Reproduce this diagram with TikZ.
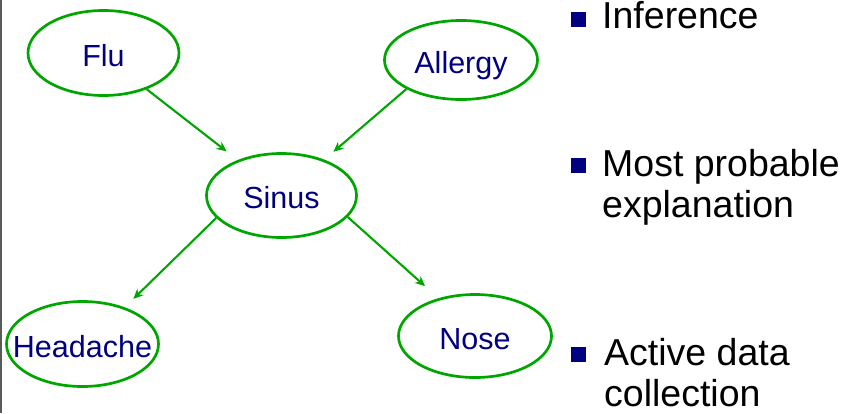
\documentclass[tikz,border=0pt]{standalone}
\usepackage{fontspec}
\setmainfont{Liberation Sans}
\usetikzlibrary{shapes.geometric,arrows.meta}
\definecolor{edgegreen}{RGB}{0,166,0}
\definecolor{navytext}{RGB}{0,0,128}
\definecolor{framegray}{RGB}{90,90,90}
\begin{document}
\begin{tikzpicture}[x=1pt,y=-1pt,
  var/.style={ellipse, draw=edgegreen, line width=2.7pt, inner sep=0pt},
  vlabel/.style={text=navytext, font=\fontsize{30.5}{30.5}\selectfont, text height=22pt, text depth=0pt, inner sep=0pt, yshift=-2pt},
  edge/.style={draw=edgegreen, line width=2.1pt, -{Stealth[length=10pt,width=9pt]}},
  bullet/.style={fill=navytext, minimum size=15pt, inner sep=0pt},
  btext/.style={font=\fontsize{37.5}{40.5}\selectfont, align=left, anchor=base west, inner sep=0pt}]
\useasboundingbox (0,0) rectangle (846,413);
\draw[framegray, line width=1.5pt] (0.75,0) -- (0.75,413);

\node[var, minimum width=151pt, minimum height=85pt, label={[vlabel]center:Flu}] (flu) at (103.5,53) {};
\node[var, minimum width=153pt, minimum height=79pt, label={[vlabel]center:Allergy}] (allergy) at (461,60) {};
\node[var, minimum width=150pt, minimum height=84pt, label={[vlabel]center:Sinus}] (sinus) at (281.5,195.5) {};
\node[var, minimum width=152pt, minimum height=85pt, label={[vlabel]center:Headache}] (headache) at (82.5,344) {};
\node[var, minimum width=153pt, minimum height=83pt, label={[vlabel]center:Nose}] (nose) at (475,336) {};

\draw[edge, shorten >=14pt] (flu.-40) -- (sinus.141.4);
\draw[edge, shorten >=12pt] (allergy.208.6) -- (sinus.40.7);
\draw[edge, shorten >=12pt] (sinus.199) -- (headache.41.6);
\draw[edge, shorten >=18pt] (sinus.-18.4) -- (nose.134.4);

\node[bullet] (b1) at (578.5,19.5) {};
\node[btext] (t1) at (602,28) {Inference};
\node[bullet] (b2) at (578.5,165) {};
\node[btext] (t2) at (602,217) {Most probable\\explanation};
\node[bullet] (b3) at (578.5,354.5) {};
\node[btext] (t3) at (604,406) {Active data\\collection};
\end{tikzpicture}
\end{document}
